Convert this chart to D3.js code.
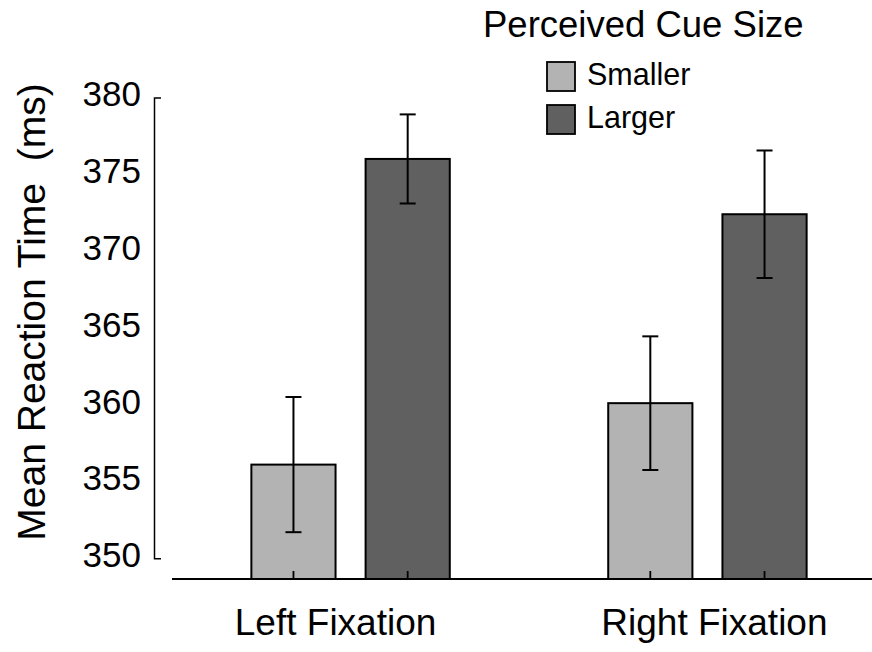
<!DOCTYPE html>
<html>
<head>
<meta charset="utf-8">
<script src="https://cdn.jsdelivr.net/npm/d3@7"></script>
<style>
  body { margin: 0; background: #fff; }
  text { font-family: "Liberation Sans", Arial, sans-serif; fill: #000; }
</style>
</head>
<body>
<div id="chart"></div>
<script>
// data
var groups = ["Left Fixation", "Right Fixation"];
var subgroups = ["Smaller", "Larger"];
var smallerRT = [356.1, 360.1];
var largerRT = [376.0, 372.4];
var smallerErr = [4.4, 4.35];
var largerErr = [2.9, 4.15];
var yTicks = [350, 355, 360, 365, 370, 375, 380];

var width = 872, height = 652;
var baseY = 579;

var svg = d3.select("#chart")
	.append("svg")
		.attr("width", width)
		.attr("height", height);

// y scale: the baseline sits a little below 350
var y = d3.scaleLinear()
	.domain([350, 380])
	.range([558.3, 97.5]);

// x scales
var x0 = d3.scaleBand()
	.domain(groups)
	.range([180, 878])
	.paddingInner(0.444)
	.paddingOuter(0.2);
var x1 = d3.scaleBand()
	.domain(subgroups)
	.range([0, x0.bandwidth()])
	.paddingInner(0.263)
	.paddingOuter(0);

var color = d3.scaleOrdinal()
	.domain(subgroups)
	.range(["#b3b3b3", "#606060"]);

var data = groups.map(function(g, i) {
	return {
		group: g,
		values: [
			{key: "Smaller", value: smallerRT[i], err: smallerErr[i]},
			{key: "Larger", value: largerRT[i], err: largerErr[i]}
		]
	};
});

// y axis (bracket with only end ticks)
var yAxis = svg.append("g")
	.attr("transform", "translate(154,0)")
	.call(d3.axisLeft(y).tickValues(yTicks).tickSizeInner(0).tickSizeOuter(-7).tickPadding(13));
yAxis.select(".domain").attr("stroke", "#000").attr("stroke-width", 1.5);
yAxis.selectAll("text")
	.style("font-size", "35px")
	.style("font-family", "'Liberation Sans', Arial, sans-serif")
	.attr("dy", "0.24em");

// y axis title
svg.append("text")
	.attr("transform", "translate(45,312) rotate(-90)")
	.attr("text-anchor", "middle")
	.style("font-size", "39px")
	.attr("xml:space", "preserve")
	.text("Mean Reaction Time  (ms)");

// bars
var gGroups = svg.append("g")
	.selectAll("g")
	.data(data)
	.enter()
	.append("g")
		.attr("transform", function(d) { return "translate(" + x0(d.group) + ",0)"; });

gGroups.selectAll("rect")
	.data(function(d) { return d.values; })
	.enter().append("rect")
		.attr("x", function(d) { return x1(d.key); })
		.attr("y", function(d) { return y(d.value); })
		.attr("width", x1.bandwidth())
		.attr("height", function(d) { return baseY - y(d.value); })
		.attr("fill", function(d) { return color(d.key); })
		.attr("stroke", "#000")
		.attr("stroke-width", 2);

// error bars
var capW = 8;
var eb = gGroups.selectAll("g.err")
	.data(function(d) { return d.values; })
	.enter().append("g")
		.attr("class", "err")
		.attr("stroke", "#000")
		.attr("stroke-width", 2);
eb.append("line")
	.attr("x1", function(d) { return x1(d.key) + x1.bandwidth() / 2; })
	.attr("x2", function(d) { return x1(d.key) + x1.bandwidth() / 2; })
	.attr("y1", function(d) { return y(d.value + d.err); })
	.attr("y2", function(d) { return y(d.value - d.err); });
eb.append("line")
	.attr("x1", function(d) { return x1(d.key) + x1.bandwidth() / 2 - capW; })
	.attr("x2", function(d) { return x1(d.key) + x1.bandwidth() / 2 + capW; })
	.attr("y1", function(d) { return y(d.value + d.err); })
	.attr("y2", function(d) { return y(d.value + d.err); });
eb.append("line")
	.attr("x1", function(d) { return x1(d.key) + x1.bandwidth() / 2 - capW; })
	.attr("x2", function(d) { return x1(d.key) + x1.bandwidth() / 2 + capW; })
	.attr("y1", function(d) { return y(d.value - d.err); })
	.attr("y2", function(d) { return y(d.value - d.err); });

// small ticks at bar centres
gGroups.selectAll("line.tick")
	.data(function(d) { return d.values; })
	.enter().append("line")
		.attr("class", "tick")
		.attr("x1", function(d) { return x1(d.key) + x1.bandwidth() / 2; })
		.attr("x2", function(d) { return x1(d.key) + x1.bandwidth() / 2; })
		.attr("y1", baseY)
		.attr("y2", baseY - 8)
		.attr("stroke", "#000")
		.attr("stroke-width", 1.8);

// x baseline
svg.append("line")
	.attr("x1", 172)
	.attr("x2", width)
	.attr("y1", baseY)
	.attr("y2", baseY)
	.attr("stroke", "#000")
	.attr("stroke-width", 2);

// group labels (nudged like the original)
svg.append("g")
	.selectAll("text")
	.data(groups)
	.enter().append("text")
		.attr("x", function(d) { return x0(d) + x0.bandwidth() / 2; })
		.attr("dx", function(d, i) { return i === 0 ? -15 : 7; })
		.attr("y", 635)
		.attr("text-anchor", "middle")
		.style("font-size", "37px")
		.text(function(d) { return d; });

// legend
svg.append("text")
	.attr("x", 483)
	.attr("y", 37)
	.style("font-size", "36.5px")
	.text("Perceived Cue Size");

var leg = svg.append("g")
	.selectAll("g")
	.data(subgroups)
	.enter().append("g")
		.attr("transform", function(d, i) { return "translate(547," + (62 + i * 43) + ")"; });
leg.append("rect")
	.attr("width", 28)
	.attr("height", 29)
	.attr("fill", function(d) { return color(d); })
	.attr("stroke", "#000")
	.attr("stroke-width", 1.8);
leg.append("text")
	.attr("x", 40)
	.attr("y", 23)
	.style("font-size", "30.5px")
	.text(function(d) { return d; });
</script>
</body>
</html>
